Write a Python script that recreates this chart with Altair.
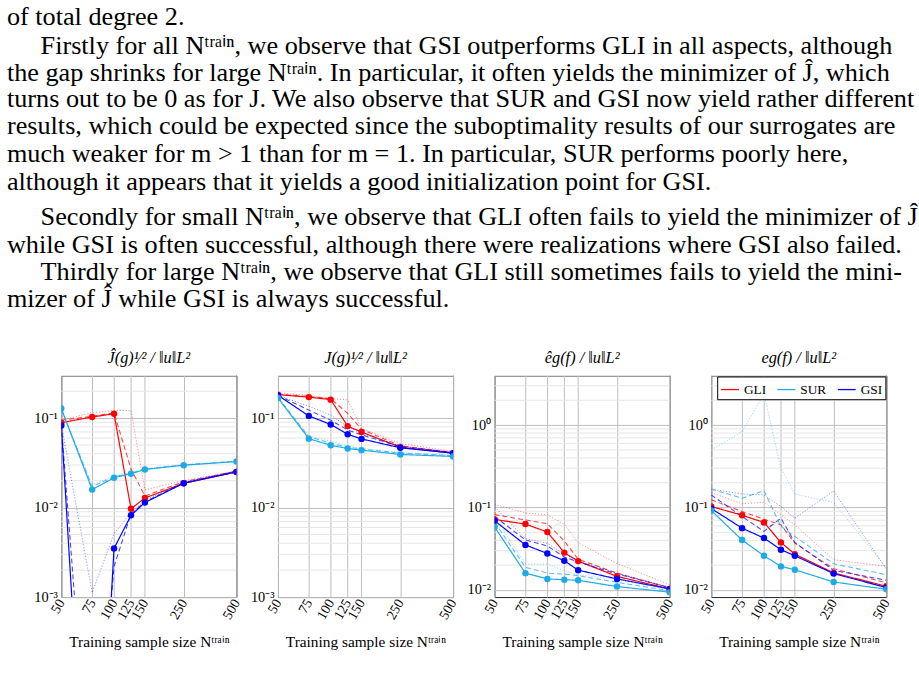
import altair as alt
import pandas as pd

# ---------------- data ----------------
N_TRAIN = [50, 75, 100, 125, 150, 250, 500]
METHODS = ["GLI", "SUR", "GSI"]
METHOD_COLORS = ["#ff0000", "#1eaae6", "#0000ff"]
DRAW_ORDER = ["GLI", "GSI", "SUR"]
STATS = ["dotted", "dashed", "solid"]

# Panel 1 : hat-J(g)^{1/2} / ||u||
P1_GLI_SOLID = [0.089, 0.103, 0.112, 0.0097, 0.0128, 0.0187, 0.025]
P1_GLI_DASHED = [0.095, 0.105, 0.115, 0.027, 0.0135, 0.0195, 0.0255]
P1_GLI_DOTTED = [0.095, 0.115, 0.122, 0.122, 0.0158, 0.020, 0.0256]
P1_SUR_SOLID = [0.128, 0.0159, 0.0216, 0.0239, 0.0267, 0.0298, 0.0327]
P1_SUR_DASHED = [0.126, 0.0172, 0.0222, 0.0242, 0.0270, 0.0300, 0.0330]
P1_SUR_DOTTED = [0.124, 0.018, 0.0226, 0.0246, 0.0272, 0.0302, 0.0332]
P1_GSI_SOLID = [0.083, 1.8e-7, 0.0035, 0.0082, 0.0114, 0.0187, 0.0251]
P1_GSI_DASHED = [0.085, 2.7e-6, 0.0022, 0.0085, 0.0116, 0.019, 0.0254]
P1_GSI_DOTTED = [0.085, 0.00112, 0.0051, 0.0088, 0.012, 0.0192, 0.0256]

# Panel 2 : J(g)^{1/2} / ||u||
P2_GLI_SOLID = [0.183, 0.172, 0.161, 0.0815, 0.070, 0.0473, 0.0406]
P2_GLI_DASHED = [0.185, 0.175, 0.165, 0.113, 0.075, 0.049, 0.0415]
P2_GLI_DOTTED = [0.19, 0.18, 0.165, 0.16, 0.077, 0.052, 0.0425]
P2_SUR_SOLID = [0.168, 0.059, 0.0498, 0.0458, 0.0439, 0.0393, 0.0373]
P2_SUR_DASHED = [0.17, 0.062, 0.0525, 0.0473, 0.0452, 0.0407, 0.038]
P2_SUR_DOTTED = [0.172, 0.0632, 0.0552, 0.049, 0.0458, 0.0414, 0.0387]
P2_GSI_SOLID = [0.18, 0.106, 0.085, 0.066, 0.0586, 0.0466, 0.0406]
P2_GSI_DASHED = [0.18, 0.123, 0.095, 0.0737, 0.065, 0.048, 0.0413]
P2_GSI_DOTTED = [0.18, 0.136, 0.108, 0.08, 0.0677, 0.049, 0.0415]

# Panel 3 : hat-e_g(f) / ||u||
P3_GLI_SOLID = [0.0717, 0.063, 0.0505, 0.0284, 0.0224, 0.0146, 0.0103]
P3_GLI_DASHED = [0.082, 0.0707, 0.0636, 0.0393, 0.0236, 0.016, 0.0106]
P3_GLI_DOTTED = [0.109, 0.086, 0.0816, 0.0624, 0.0375, 0.0209, 0.0116]
P3_SUR_SOLID = [0.058, 0.016, 0.0136, 0.0133, 0.0131, 0.011, 0.0094]
P3_SUR_DASHED = [0.0665, 0.0188, 0.016, 0.0156, 0.0149, 0.0124, 0.0098]
P3_SUR_DOTTED = [0.078, 0.0206, 0.0206, 0.0171, 0.0152, 0.0136, 0.0101]
P3_GSI_SOLID = [0.069, 0.0352, 0.0277, 0.0226, 0.0174, 0.0136, 0.0103]
P3_GSI_DASHED = [0.078, 0.0404, 0.0342, 0.0252, 0.0219, 0.0156, 0.0107]
P3_GSI_DOTTED = [0.102, 0.042, 0.0368, 0.0272, 0.0225, 0.016, 0.0108]

# Panel 4 : e_g(f) / ||u||
P4_GLI_SOLID = [0.103, 0.0807, 0.0659, 0.0377, 0.0272, 0.0161, 0.0111]
P4_GLI_DASHED = [0.124, 0.0895, 0.0723, 0.0617, 0.037, 0.0181, 0.0122]
P4_GLI_DOTTED = [0.152, 0.111, 0.116, 0.0815, 0.0617, 0.0233, 0.0193]
P4_SUR_SOLID = [0.092, 0.0403, 0.026, 0.0193, 0.0176, 0.0125, 0.0102]
P4_SUR_DASHED = [0.167, 0.13, 0.16, 0.059, 0.0446, 0.0208, 0.0153]
P4_SUR_DOTTED = [0.499, 0.83, 2.4, 0.299, 0.146, 0.115, 0.0185]
P4_GSI_SOLID = [0.0973, 0.0562, 0.0426, 0.0308, 0.026, 0.0158, 0.0107]
P4_GSI_DASHED = [0.142, 0.0778, 0.0513, 0.0743, 0.0377, 0.0173, 0.0131]
P4_GSI_DOTTED = [0.167, 0.146, 0.142, 0.103, 0.0743, 0.159, 0.0179]

PANEL_TITLES = [
    "Ĵ(g)¹⁄² / ‖u‖L²",
    "J(g)¹⁄² / ‖u‖L²",
    "êg(f) / ‖u‖L²",
    "eg(f) / ‖u‖L²",
]
X_TITLE = "Training sample size Nᵗʳᵃⁱⁿ"

Y_TICKS_A = [0.001, 0.01, 0.1]
Y_LABELS_A = ["10⁻³", "10⁻²", "10⁻¹"]
Y_TICKS_B = [0.01, 0.1, 1.0]
Y_LABELS_B = ["10⁻²", "10⁻¹", "10⁰"]
Y_DOMAIN_A = [0.001, 0.3]
Y_DOMAIN_B = [0.0082, 4.0]
MINOR_A = [0.002, 0.003, 0.004, 0.005, 0.006, 0.007, 0.008, 0.009,
           0.02, 0.03, 0.04, 0.05, 0.06, 0.07, 0.08, 0.09, 0.2, 0.3]
MINOR_B = [0.02, 0.03, 0.04, 0.05, 0.06, 0.07, 0.08, 0.09,
           0.2, 0.3, 0.4, 0.5, 0.6, 0.7, 0.8, 0.9, 2, 3, 4]

PARA_LINES = [
    "of total degree 2.",
    "Firstly for all Nᵗʳᵃⁱⁿ, we observe that GSI outperforms GLI in all aspects, although",
    "the gap shrinks for large Nᵗʳᵃⁱⁿ. In particular, it often yields the minimizer of Ĵ, which",
    "turns out to be 0 as for J. We also observe that SUR and GSI now yield rather different",
    "results, which could be expected since the suboptimality results of our surrogates are",
    "much weaker for m > 1 than for m = 1.  In particular, SUR performs poorly here,",
    "although it appears that it yields a good initialization point for GSI.",
    "Secondly for small Nᵗʳᵃⁱⁿ, we observe that GLI often fails to yield the minimizer of Ĵ",
    "while GSI is often successful, although there were realizations where GSI also failed.",
    "Thirdly for large Nᵗʳᵃⁱⁿ, we observe that GLI still sometimes fails to yield the mini-",
    "mizer of Ĵ while GSI is always successful.",
]

# ---------------- layout ----------------
SERIF = "Liberation Serif"
LINE_X = [6, 40, 6, 6, 6, 6, 6, 40, 6, 40, 6]
LINE_Y = [19, 48, 75, 102, 129, 157, 186, 221, 249, 276, 304]
PAGE_W = 919
OFF_X, OFF_Y = 61, 25          # origin of the text view inside the page
TEXT_H = 320
PW, PH = 177, 224


def panel_frame(series):
    rows = []
    for m in DRAW_ORDER:
        for s in STATS:
            for n, v in zip(N_TRAIN, series[(m, s)]):
                rows.append({"n": n, "v": v, "method": m, "stat": s, "series": m + "-" + s})
    return pd.DataFrame(rows)


def label_expr(ticks, labels):
    e = ""
    for t, l in zip(ticks, labels):
        e += f"datum.value < {t * 3} ? '{l}' : "
    return e + "''"


def make_panel(series, title, ydom, yticks, ylabels, minor, extent, legend):
    df = panel_frame(series)
    xscale = alt.Scale(type="log", domain=[50, 500], nice=False)
    yscale = alt.Scale(type="log", domain=ydom, nice=False)
    xaxis = alt.Axis(values=N_TRAIN, format="d", labelAngle=300, labelAlign="right",
                     labelBaseline="middle", labelOverlap=False, labelFlush=False,
                     labelPadding=3, ticks=False, domain=False, grid=True,
                     gridColor="#bdbdbd", gridWidth=1, labelFont=SERIF, labelFontSize=14,
                     labelColor="black", title=X_TITLE, titleFont=SERIF, titleFontSize=15.5,
                     titleFontWeight="normal", titleColor="black", titleY=50,
                     titleBaseline="alphabetic")
    yaxis = alt.Axis(values=yticks, labelExpr=label_expr(yticks, ylabels), ticks=False,
                     domain=False, grid=True, gridColor="#bdbdbd", gridWidth=1,
                     labelFont=SERIF, labelFontSize=14.5, labelColor="black", labelPadding=4,
                     minExtent=extent, maxExtent=extent, title=None)
    minor_layer = alt.Chart(pd.DataFrame({"v": minor})).mark_rule(
        color="#e6e6e6", strokeWidth=1).encode(
        y=alt.Y("v:Q", scale=yscale, axis=yaxis))
    color_scale = alt.Scale(domain=METHODS, range=METHOD_COLORS)
    lines = alt.Chart(df).mark_line(clip=True).encode(
        x=alt.X("n:Q", scale=xscale, axis=xaxis),
        y=alt.Y("v:Q", scale=yscale, axis=yaxis),
        color=alt.Color("method:N", scale=color_scale, legend=legend),
        strokeDash=alt.StrokeDash("stat:N", scale=alt.Scale(
            domain=STATS, range=[[1.2, 1.8], [5, 3], [1, 0]]), legend=None),
        opacity=alt.Opacity("stat:N", scale=alt.Scale(domain=STATS, range=[0.5, 1, 1]), legend=None),
        strokeWidth=alt.StrokeWidth("stat:N", scale=alt.Scale(domain=STATS, range=[0.9, 1.2, 1.3]), legend=None),
        detail="series:N",
    )
    points = alt.Chart(df).transform_filter(alt.datum.stat == "solid").mark_circle(
        size=42, opacity=1, clip=True).encode(
        x=alt.X("n:Q", scale=xscale, axis=xaxis),
        y=alt.Y("v:Q", scale=yscale, axis=yaxis),
        color=alt.Color("method:N", scale=color_scale, legend=None),
    )
    return alt.layer(minor_layer, lines, points).properties(
        width=PW, height=PH,
        title=alt.TitleParams(text=title, font=SERIF, fontSize=16.5, fontStyle="italic",
                              fontWeight="normal", color="black", offset=7, dy=11,
                              frame="group", anchor="middle", baseline="alphabetic"),
    )


def series_dict(gs, gd, gt, ss, sd, st, bs, bd, bt):
    return {("GLI", "solid"): gs, ("GLI", "dashed"): gd, ("GLI", "dotted"): gt,
            ("SUR", "solid"): ss, ("SUR", "dashed"): sd, ("SUR", "dotted"): st,
            ("GSI", "solid"): bs, ("GSI", "dashed"): bd, ("GSI", "dotted"): bt}


S1 = series_dict(P1_GLI_SOLID, P1_GLI_DASHED, P1_GLI_DOTTED, P1_SUR_SOLID, P1_SUR_DASHED,
                 P1_SUR_DOTTED, P1_GSI_SOLID, P1_GSI_DASHED, P1_GSI_DOTTED)
S2 = series_dict(P2_GLI_SOLID, P2_GLI_DASHED, P2_GLI_DOTTED, P2_SUR_SOLID, P2_SUR_DASHED,
                 P2_SUR_DOTTED, P2_GSI_SOLID, P2_GSI_DASHED, P2_GSI_DOTTED)
S3 = series_dict(P3_GLI_SOLID, P3_GLI_DASHED, P3_GLI_DOTTED, P3_SUR_SOLID, P3_SUR_DASHED,
                 P3_SUR_DOTTED, P3_GSI_SOLID, P3_GSI_DASHED, P3_GSI_DOTTED)
S4 = series_dict(P4_GLI_SOLID, P4_GLI_DASHED, P4_GLI_DOTTED, P4_SUR_SOLID, P4_SUR_DASHED,
                 P4_SUR_DOTTED, P4_GSI_SOLID, P4_GSI_DASHED, P4_GSI_DOTTED)

legend4 = alt.Legend(orient="top-right", direction="horizontal", title=None, offset=1,
                     padding=3, strokeColor="black", fillColor="white", symbolType="stroke",
                     symbolSize=324, symbolStrokeWidth=1.3, labelFont=SERIF, labelFontSize=13.5,
                     labelColor="black", columnPadding=8, labelOffset=4, cornerRadius=0)

p1 = make_panel(S1, PANEL_TITLES[0], Y_DOMAIN_A, Y_TICKS_A, Y_LABELS_A, MINOR_A, 61, None)
p2 = make_panel(S2, PANEL_TITLES[1], Y_DOMAIN_A, Y_TICKS_A, Y_LABELS_A, MINOR_A, 30, None)
p3 = make_panel(S3, PANEL_TITLES[2], Y_DOMAIN_B, Y_TICKS_B, Y_LABELS_B, MINOR_B, 30, None)
p4 = make_panel(S4, PANEL_TITLES[3], Y_DOMAIN_B, Y_TICKS_B, Y_LABELS_B, MINOR_B, 30, legend4)

panels = alt.hconcat(p1, p2, p3, p4, spacing=4).resolve_scale(
    x="independent", y="independent", color="independent", strokeDash="independent",
    opacity="independent", strokeWidth="independent").resolve_legend(color="independent")

text_df = pd.DataFrame({"line": PARA_LINES, "x": LINE_X, "y": LINE_Y})
text_chart = alt.Chart(text_df).mark_text(
    align="left", baseline="alphabetic", font=SERIF, fontSize=26.5, color="black").encode(
    x=alt.X("x:Q", scale=alt.Scale(domain=[0, PAGE_W], range=[-OFF_X, PAGE_W - OFF_X],
                                   nice=False, zero=False), axis=None),
    y=alt.Y("y:Q", scale=alt.Scale(domain=[0, TEXT_H], range=[-OFF_Y, TEXT_H - OFF_Y],
                                   nice=False, zero=False), axis=None),
    text="line:N",
).properties(width=PAGE_W - OFF_X, height=TEXT_H, view=alt.ViewBackground(stroke="transparent"))

chart = alt.vconcat(text_chart, panels, spacing=0).properties(
    padding={"left": 0, "top": 0, "right": 0, "bottom": 0}
).configure(background="white").configure_view(stroke="#222222", strokeWidth=1)

chart.save("out.html", embed_options={"renderer": "svg", "actions": False})
